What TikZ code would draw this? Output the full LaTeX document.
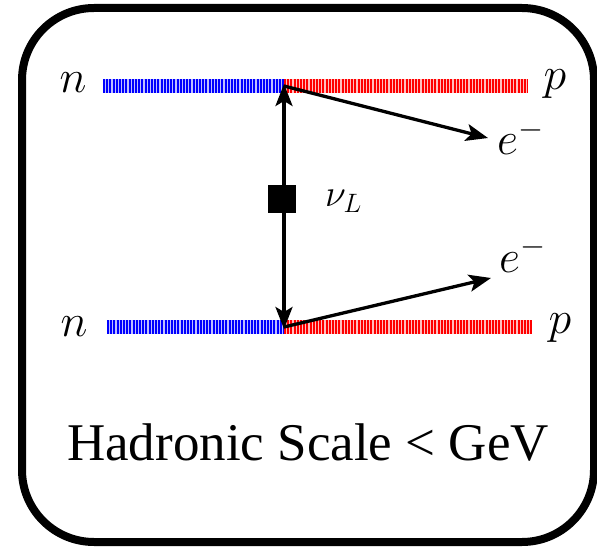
\RequirePackage{fix-cm}
\documentclass[tikz,border=0pt]{standalone}
\usepackage{fontspec}
\setmainfont{Liberation Serif}
\usetikzlibrary{arrows.meta}
\begin{document}
\begin{tikzpicture}[x=1pt,y=-1pt,
  tip/.style={-{Stealth[length=22pt,width=17pt,inset=5pt]}},
  fermion/.style={line width=14pt},
  stripes/.style={line width=14pt,dash pattern=on 2pt off 1.2pt},
  lbl/.style={inner sep=0pt,anchor=base,font=\fontsize{46}{50}\selectfont},
  smalllbl/.style={inner sep=0pt,anchor=base west,font=\fontsize{38}{42}\selectfont}]
\useasboundingbox (0,0) rectangle (597,548);
\draw[line width=8pt,rounded corners=72pt] (22,8) rectangle (594,542);
% coordinates
\coordinate (a1) at (103,86);
\coordinate (v1) at (284,86);
\coordinate (b1) at (528,86);
\coordinate (a2) at (107,327);
\coordinate (v2) at (284,327);
\coordinate (b2) at (532,327);
\coordinate (e1) at (488,138);
\coordinate (e2) at (491,278);
% nucleon lines
\draw[fermion,blue!25] (a1) -- (v1);
\draw[stripes,blue] (a1) -- (v1);
\draw[fermion,red!25] (v1) -- (b1);
\draw[stripes,red] (v1) -- (b1);
\draw[fermion,blue!25] (a2) -- (v2);
\draw[stripes,blue] (a2) -- (v2);
\draw[fermion,red!25] (v2) -- (b2);
\draw[stripes,red] (v2) -- (b2);
% neutrino
\draw[line width=3.3pt,{Stealth[length=22pt,width=17pt,inset=5pt]}-{Stealth[length=22pt,width=17pt,inset=5pt]}] ([yshift=2pt]v1) -- ([yshift=-2pt]v2);
\node[fill=black,minimum size=28pt,inner sep=0pt] (sq) at (282,199) {};
% electrons
\draw[line width=3.3pt,tip] (v1) -- (e1);
\draw[line width=3.3pt,tip] (v2) -- (e2);
% labels
\node[lbl] (n1) at (73,93) {$n$};
\node[lbl] (n2) at (74,336) {$n$};
\node[lbl] (p1) at (555,90) {$p$};
\node[lbl] (p2) at (560,333) {$p$};
\node[lbl,anchor=base west] (el1) at (497,155) {$e^-$};
\node[lbl,anchor=base west] (el2) at (499,272) {$e^-$};
\node[smalllbl] (nu) at (325,207) {$\nu_L$};
\node[inner sep=0pt,anchor=base,font=\fontsize{53}{60}\selectfont] (scale) at (308,460) {Hadronic Scale < GeV};
\end{tikzpicture}
\end{document}
